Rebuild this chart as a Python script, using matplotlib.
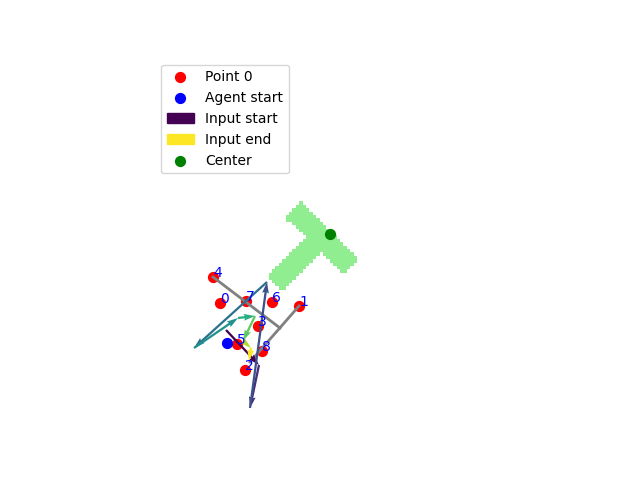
import matplotlib
matplotlib.use('Agg')
import matplotlib.pyplot as plt
import numpy as np
from matplotlib.path import Path
from matplotlib.patches import Patch
from matplotlib.colors import ListedColormap

# Keypoints (x, y), label = index
point_x = [220, 299, 245, 258, 213, 237, 272, 246, 262]
point_y = [177, 174, 110, 154, 203, 136, 178, 179, 129]

agent_start = (227, 137)
center = (330, 246)

# Gray skeleton segments
seg_x = [[213, 280], [299, 250]]
seg_y = [[203, 152], [174, 118]]

# Input trajectory (positions visited in order)
traj_x = [226, 259, 250, 267, 194, 238, 255, 243, 251, 249]
traj_y = [150, 115, 72, 198, 132, 162, 164, 139, 132, 119]

# T-block outline (corners)
t_x = [300, 359, 344, 322, 283, 267, 306, 284]
t_y = [279, 220, 205, 227, 188, 204, 242, 263]

fig, ax = plt.subplots(figsize=(6.4, 4.8), dpi=100)

# Rasterised T block
cell = 3.4
gx = np.arange(255, 370, cell)
gy = np.arange(180, 290, cell)
cx, cy = np.meshgrid((gx[:-1] + gx[1:]) / 2, (gy[:-1] + gy[1:]) / 2)
t_path = Path(np.column_stack([t_x, t_y]))
inside = t_path.contains_points(np.column_stack([cx.ravel(), cy.ravel()])).reshape(cx.shape)
mask = np.ma.masked_where(~inside, np.ones_like(cx))
ax.pcolormesh(gx, gy, mask, cmap=ListedColormap(['lightgreen']), zorder=1)

# Keypoints
for i in range(len(point_x)):
    ax.scatter(point_x[i], point_y[i], c='red', s=50, zorder=3,
               label='Point 0' if i == 0 else None)

ax.scatter(*agent_start, c='blue', s=50, zorder=3, label='Agent start')
ax.scatter(*center, c='green', s=50, zorder=3, label='Center')

for sx, sy in zip(seg_x, seg_y):
    ax.plot(sx, sy, color='gray', lw=2, zorder=4)

# Trajectory arrows coloured start -> end
n = len(traj_x) - 1
cols = plt.cm.viridis(np.linspace(0, 1, n))
tx = np.array(traj_x)
ty = np.array(traj_y)
ax.quiver(tx[:-1], ty[:-1], np.diff(tx), np.diff(ty), color=cols,
          angles='xy', scale_units='xy', scale=1, width=0.0065, zorder=5)

for i in range(len(point_x)):
    ax.text(point_x[i], point_y[i], str(i), color='blue', fontsize=10, zorder=6)

handles, labels = ax.get_legend_handles_labels()
lookup = dict(zip(labels, handles))
leg_handles = [lookup['Point 0'], lookup['Agent start'],
               Patch(color=plt.cm.viridis(0.0), label='Input start'),
               Patch(color=plt.cm.viridis(1.0), label='Input end'),
               lookup['Center']]
ax.legend(handles=leg_handles, loc='upper left')

ax.set_xlim(154, 502)
ax.set_ylim(52.8, 422.4)
ax.set_aspect('equal')
ax.axis('off')

plt.savefig('out.png', dpi=100)
